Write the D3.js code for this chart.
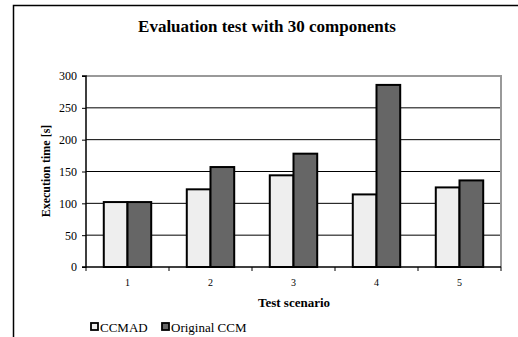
<!DOCTYPE html>
<html><head><meta charset="utf-8">
<script src="https://cdn.jsdelivr.net/npm/d3@7"></script>
<style>body{margin:0;background:#fff}svg{display:block}text{font-family:"Liberation Serif","Times New Roman",serif;fill:#000}</style>
</head><body><svg id="c" width="518" height="337"></svg>
<script>
const categories = ["1","2","3","4","5"];
const seriesNames = ["CCMAD","Original CCM"];
const ccmad = [102,122,144,114,125];
const originalCCM = [102,157,178,286,136];
const yTicks = [0,50,100,150,200,250,300];
const title = "Evaluation test with 30 components";
const xTitle = "Test scenario";
const yTitle = "Execution time [s]";
const colors = ["#eeeeee","#666666"];

const svg = d3.select("#c");
// outer chart frame (cropped on right/bottom)
svg.append("rect").attr("x",13.5).attr("y",5.5).attr("width",520).attr("height",340)
  .attr("fill","#fff").attr("stroke","#000").attr("stroke-width",1.5);

const L=86, R=501, T=76, B=267;
const x = d3.scaleBand().domain(categories).range([L,R]);
const y = d3.scaleLinear().domain([0,300]).range([B,T]);

// gridlines
svg.append("g").selectAll("line").data(yTicks.filter(d=>d>0 && d<300)).join("line")
  .attr("x1",L).attr("x2",R).attr("y1",d=>y(d)).attr("y2",d=>y(d))
  .attr("stroke","#000").attr("stroke-width",1);
// plot border top/right gray
svg.append("path").attr("d",`M${L},${y(300)}H${R}V${B}`).attr("fill","none")
  .attr("stroke","#999").attr("stroke-width",2);

// bars
const data = categories.map((c,i)=>({c, vals:[ccmad[i], originalCCM[i]]}));
const bw = x.bandwidth()/3.5;
const g = svg.append("g");
data.forEach(d=>{
  const cx = x(d.c)+x.bandwidth()/2;
  d.vals.forEach((v,j)=>{
    g.append("rect").attr("x",cx-bw+j*bw).attr("y",y(v)).attr("width",bw).attr("height",B-y(v))
      .attr("fill",colors[j]).attr("stroke","#000").attr("stroke-width",2);
  });
});

// y axis
const yAxis = d3.axisLeft(y).tickValues(yTicks).tickSize(4).tickPadding(5);
const ya = svg.append("g").attr("transform",`translate(${L},0)`).call(yAxis);
ya.attr("font-family",null);
ya.select(".domain").attr("stroke","#000").attr("stroke-width",1.5).attr("d",`M-4,${T}H0V${B}H-4`);
ya.selectAll(".tick line").attr("stroke","#000");
ya.selectAll(".tick text").style("font-size","12px").attr("fill","#000");

// x axis
const xa = svg.append("g").attr("transform",`translate(0,${B})`)
  .call(d3.axisBottom(x).tickSize(0).tickPadding(12));
xa.attr("font-family",null);
xa.select(".domain").attr("stroke","#000").attr("stroke-width",1.5).attr("d",`M${L},0H${R}`);
xa.selectAll(".tick text").style("font-size","10px").attr("fill","#000");
// boundary ticks
svg.append("g").selectAll("line").data(categories.concat(["end"])).join("line")
  .attr("x1",(d,i)=>i<categories.length?x(d):R).attr("x2",(d,i)=>i<categories.length?x(d):R)
  .attr("y1",B).attr("y2",B+4).attr("stroke","#000").attr("stroke-width",1);

// titles
svg.append("text").attr("x",267).attr("y",32).attr("text-anchor","middle")
  .style("font-size","17px").style("font-weight","bold").text(title);
svg.append("text").attr("x",294).attr("y",307).attr("text-anchor","middle")
  .style("font-size","13px").style("font-weight","bold").text(xTitle);
svg.append("text").attr("transform",`translate(50,171) rotate(-90)`).attr("text-anchor","middle")
  .style("font-size","12px").style("font-weight","bold").text(yTitle);

// legend
const lg = svg.append("g");
const lx=[91,162];
seriesNames.forEach((n,i)=>{
  lg.append("rect").attr("x",lx[i]).attr("y",323).attr("width",7).attr("height",7)
    .attr("fill",colors[i]).attr("stroke","#000").attr("stroke-width",1.8);
  lg.append("text").attr("x",lx[i]+9).attr("y",332).style("font-size","13px").text(n);
});
</script></body></html>
